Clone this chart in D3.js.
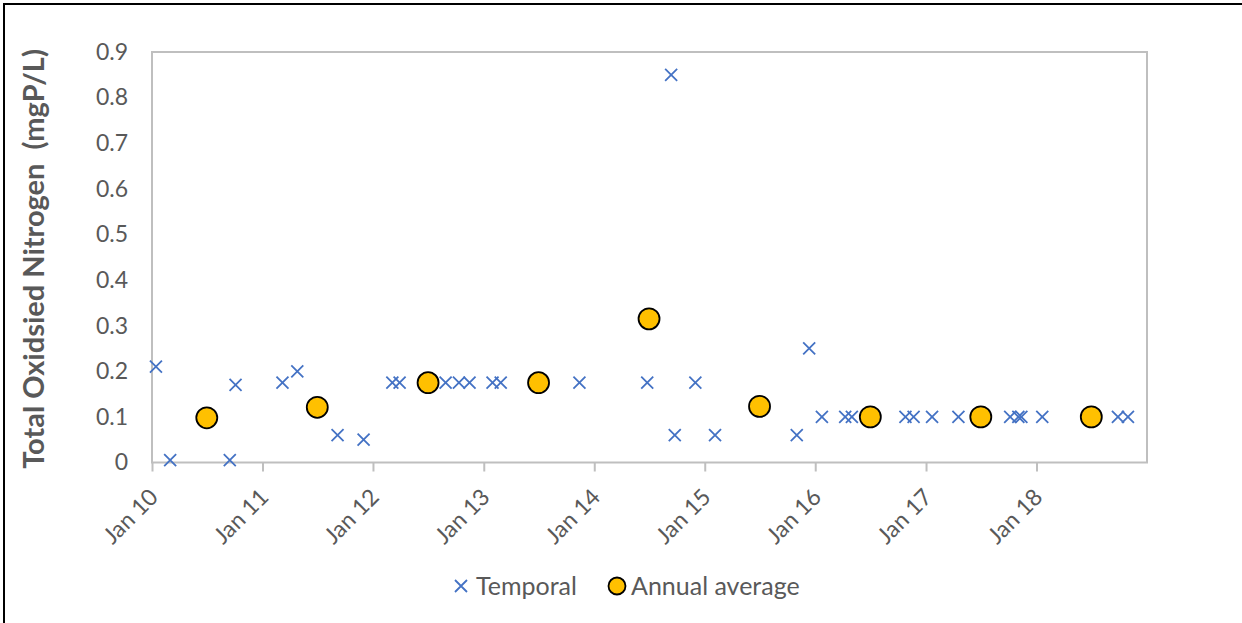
<!DOCTYPE html>
<html>
<head>
<title>Total oxidised nitrogen</title>
<style>
  body { margin: 0; background: #fff; }
  svg text { font-family: Lato, "Open Sans", sans-serif; fill: #595959; }
</style>
</head>
<body>
<script src="https://cdnjs.cloudflare.com/ajax/libs/d3/7.8.5/d3.min.js"></script>
<script>
// temporal samples
var temporalDates = [
  "2010-01-14", "2010-03-02", "2010-09-15", "2010-10-04", "2011-03-08", "2011-04-26",
  "2011-09-06", "2011-12-01", "2012-03-05", "2012-03-29", "2012-08-28", "2012-10-11",
  "2012-11-15", "2013-01-30", "2013-02-26", "2013-11-13", "2014-06-25", "2014-09-12",
  "2014-09-24", "2014-12-01", "2015-02-04", "2015-11-01", "2015-12-12", "2016-01-23",
  "2016-04-09", "2016-05-01", "2016-10-25", "2016-11-21", "2017-01-21", "2017-04-18",
  "2017-10-06", "2017-11-02", "2017-11-12", "2018-01-20", "2018-09-27", "2018-10-30"
];
var temporalValues = [
  0.21, 0.005, 0.005, 0.17, 0.175, 0.20,
  0.06, 0.05, 0.175, 0.175, 0.175, 0.175,
  0.175, 0.175, 0.175, 0.175, 0.175, 0.85,
  0.06, 0.175, 0.06, 0.06, 0.25, 0.1,
  0.1, 0.1, 0.1, 0.1, 0.1, 0.1,
  0.1, 0.1, 0.1, 0.1, 0.1, 0.1
];

// annual averages (plotted mid-year)
var avgYears = [2010, 2011, 2012, 2013, 2014, 2015, 2016, 2017, 2018];
var avgValues = [0.098, 0.121, 0.175, 0.175, 0.315, 0.123, 0.1, 0.1, 0.1];

var yTicks = [0, 0.1, 0.2, 0.3, 0.4, 0.5, 0.6, 0.7, 0.8, 0.9];
var xTickYears = [2010, 2011, 2012, 2013, 2014, 2015, 2016, 2017, 2018];

var width = 1242, height = 623;
var plotL = 152, plotR = 1147, plotT = 52, plotB = 462.5;

var parse = d3.timeParse("%Y-%m-%d");
var fmt = d3.timeFormat("%b %y");

var x = d3.scaleTime()
  .domain([new Date(2010, 0, 1), new Date(2019, 0, 1)])
  .range([plotL, plotR]);
var y = d3.scaleLinear()
  .domain([0, 0.9])
  .range([plotB, plotT]);

var svg = d3.select("body").append("svg")
  .attr("width", width)
  .attr("height", height);

// outer chart border (right/bottom edges fall outside the picture)
svg.append("rect")
  .attr("x", 4).attr("y", 4)
  .attr("width", width + 10).attr("height", height + 10)
  .attr("fill", "none").attr("stroke", "#000").attr("stroke-width", 2);

// plot frame
svg.append("rect")
  .attr("x", plotL).attr("y", plotT)
  .attr("width", plotR - plotL).attr("height", plotB - plotT)
  .attr("fill", "none").attr("stroke", "#BFBFBF").attr("stroke-width", 2);

// y axis labels
var yAxis = d3.axisLeft(y).tickValues(yTicks).tickSize(0).tickPadding(24)
  .tickFormat(function(d) { return d === 0 ? "0" : d3.format(".1f")(d); });
var gy = svg.append("g").attr("transform", "translate(" + plotL + ",0)").call(yAxis);
gy.select(".domain").remove();
gy.selectAll("text").style("font-size", "23px").attr("fill", "#595959");

// x axis
var xAxis = d3.axisBottom(x)
  .tickValues(xTickYears.map(function(d) { return new Date(d, 0, 1); }))
  .tickSize(9).tickFormat(fmt);
var gx = svg.append("g").attr("transform", "translate(0," + plotB + ")").call(xAxis);
gx.select(".domain").remove();
gx.selectAll(".tick line").attr("stroke", "#BFBFBF").attr("stroke-width", 2);
gx.selectAll("text")
  .style("font-size", "23px")
  .attr("fill", "#595959")
  .attr("text-anchor", "end")
  .attr("x", 0).attr("y", 0).attr("dy", null)
  .attr("transform", "translate(7,36) rotate(-45)");

// y axis title
svg.append("text")
  .attr("transform", "translate(44,259) rotate(-90)")
  .attr("text-anchor", "middle")
  .style("font-size", "29px")
  .style("font-weight", "bold")
  .attr("xml:space", "preserve")
  .text("Total Oxidsied Nitrogen  (mgP/L)");

// temporal crosses
var cs = 6;
function cross(g) {
  g.append("path")
    .attr("d", "M" + -cs + "," + -cs + "L" + cs + "," + cs + "M" + -cs + "," + cs + "L" + cs + "," + -cs)
    .attr("stroke", "#4472C4").attr("stroke-width", 1.8).attr("fill", "none");
}
svg.append("g").selectAll("g")
  .data(temporalDates.map(function(d, i) { return { date: parse(d), value: temporalValues[i] }; }))
  .enter().append("g")
  .attr("transform", function(d) { return "translate(" + x(d.date) + "," + y(d.value) + ")"; })
  .call(cross);

// annual averages
svg.append("g").selectAll("circle")
  .data(avgYears.map(function(d, i) { return { date: new Date(d, 6, 1), value: avgValues[i] }; }))
  .enter().append("circle")
  .attr("cx", function(d) { return x(d.date); })
  .attr("cy", function(d) { return y(d.value); })
  .attr("r", 10.5)
  .attr("fill", "#FFC000")
  .attr("stroke", "#000").attr("stroke-width", 1.8);

// legend
var lg = svg.append("g").attr("transform", "translate(0,586)");
lg.append("path")
  .attr("transform", "translate(461,0)")
  .attr("d", "M-6,-6L6,6M-6,6L6,-6")
  .attr("stroke", "#4472C4").attr("stroke-width", 1.8).attr("fill", "none");
lg.append("text").attr("x", 476).attr("dy", "0.35em").style("font-size", "25px").text("Temporal");
lg.append("circle").attr("cx", 617).attr("cy", 0).attr("r", 8.5)
  .attr("fill", "#FFC000").attr("stroke", "#000").attr("stroke-width", 1.8);
lg.append("text").attr("x", 631).attr("dy", "0.35em").style("font-size", "25px").text("Annual average");
</script>
</body>
</html>
